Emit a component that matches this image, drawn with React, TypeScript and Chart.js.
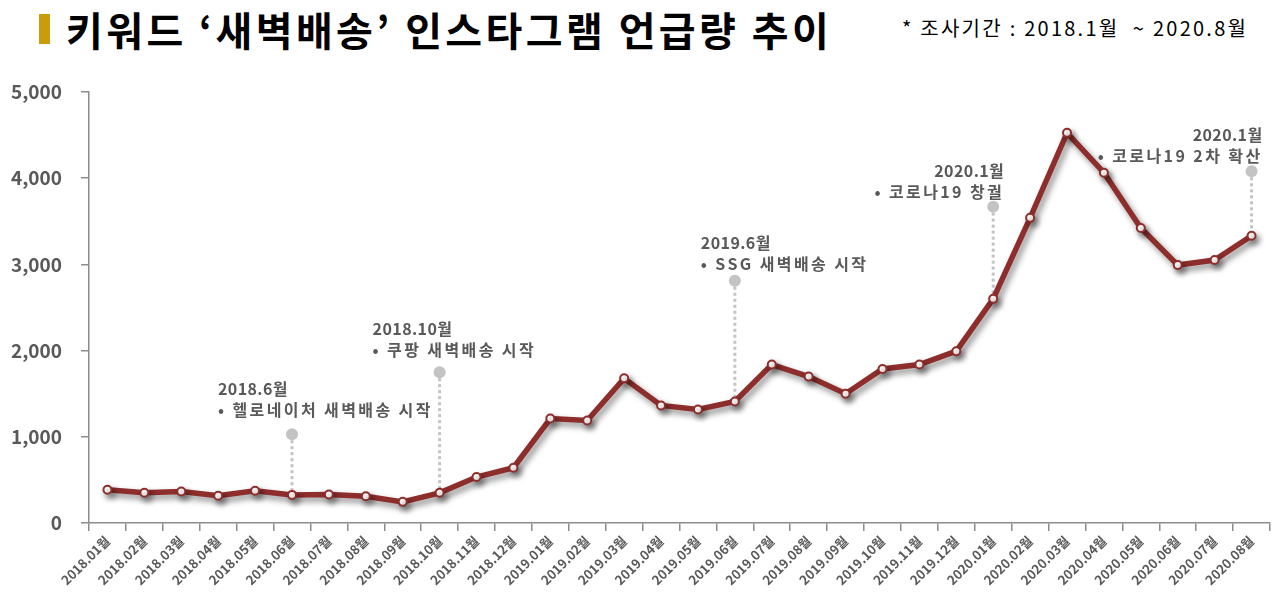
import React, { useEffect, useRef } from "react";
import { Chart, registerables } from "chart.js";

Chart.register(...registerables);

const categories = [
  "2018.01월", "2018.02월", "2018.03월", "2018.04월", "2018.05월", "2018.06월",
  "2018.07월", "2018.08월", "2018.09월", "2018.10월", "2018.11월", "2018.12월",
  "2019.01월", "2019.02월", "2019.03월", "2019.04월", "2019.05월", "2019.06월",
  "2019.07월", "2019.08월", "2019.09월", "2019.10월", "2019.11월", "2019.12월",
  "2020.01월", "2020.02월", "2020.03월", "2020.04월", "2020.05월", "2020.06월",
  "2020.07월", "2020.08월",
];

const mentions = [
  385, 350, 365, 315, 373, 326, 330, 311, 245, 350, 533, 641,
  1212, 1189, 1678, 1364, 1317, 1410, 1838, 1698, 1500, 1787, 1838, 1993,
  2600, 3540, 4526, 4064, 3423, 2992, 3050, 3333,
];

const yTicks = [0, 1000, 2000, 3000, 4000, 5000];

const annotationIndex = [5, 9, 17, 24, 31];
const annotationDotValue = [1030, 1750, 2810, 3670, 4080];
const annotationDate = ["2018.6월", "2018.10월", "2019.6월", "2020.1월", "2020.1월"];
const annotationEvent = [
  "• 헬로네이처 새벽배송 시작",
  "• 쿠팡 새벽배송 시작",
  "• SSG 새벽배송 시작",
  "• 코로나19 창궐",
  "• 코로나19 2차 확산",
];

// layout of annotation text (pixels relative to the grey dot)
const annotationLayout = [
  { align: "left", dx: -74, dy: -24 },
  { align: "left", dx: -67, dy: -22 },
  { align: "left", dx: -34, dy: -17 },
  { align: "right", dx: 11, dy: -15 },
  { align: "right", dx: 11, dy: -15 },
];

const FONT = "'Noto Sans CJK KR', 'Noto Sans', sans-serif";
const LINE_COLOR = "#8E2E2C";
const TEXT_GREY = "#595959";

const shadowPlugin = {
  id: "lineShadow",
  beforeDatasetDraw(chart: any) {
    const ctx = chart.ctx;
    ctx.save();
    ctx.shadowColor = "rgba(0,0,0,0.45)";
    ctx.shadowBlur = 6;
    ctx.shadowOffsetX = 3;
    ctx.shadowOffsetY = 4;
  },
  afterDatasetDraw(chart: any) {
    chart.ctx.restore();
  },
};

const annotationPlugin = {
  id: "eventNotes",
  beforeDatasetsDraw(chart: any) {
    const ctx = chart.ctx;
    const xs = chart.scales.x;
    const ys = chart.scales.y;
    ctx.save();
    annotationIndex.forEach((idx, i) => {
      const x = xs.getPixelForValue(idx);
      const yDot = ys.getPixelForValue(annotationDotValue[i]);
      const yPt = ys.getPixelForValue(mentions[idx]);
      ctx.strokeStyle = "#C3C3C3";
      ctx.lineWidth = 3;
      ctx.setLineDash([3, 3]);
      ctx.beginPath();
      ctx.moveTo(x, yDot);
      ctx.lineTo(x, yPt);
      ctx.stroke();
      ctx.setLineDash([]);
      ctx.fillStyle = "#C3C3C3";
      ctx.beginPath();
      ctx.arc(x, yDot, 6, 0, Math.PI * 2);
      ctx.fill();
    });
    ctx.restore();
  },
  afterDatasetsDraw(chart: any) {
    const ctx = chart.ctx;
    const xs = chart.scales.x;
    const ys = chart.scales.y;
    ctx.save();
    ctx.fillStyle = TEXT_GREY;
    ctx.font = `bold 16px ${FONT}`;
    ctx.textBaseline = "middle";
    annotationIndex.forEach((idx, i) => {
      const lay = annotationLayout[i];
      const x = xs.getPixelForValue(idx) + lay.dx;
      const yDot = ys.getPixelForValue(annotationDotValue[i]);
      ctx.textAlign = lay.align;
      (ctx as any).letterSpacing = "0.4px";
      ctx.fillText(annotationDate[i], x, yDot + lay.dy - 21);
      (ctx as any).letterSpacing = "2.4px";
      ctx.fillText(annotationEvent[i], x, yDot + lay.dy);
    });
    (ctx as any).letterSpacing = "0px";
    ctx.restore();
  },
};

export default function App() {
  const ref = useRef<HTMLCanvasElement | null>(null);

  useEffect(() => {
    if (!ref.current) return;
    const chart = new Chart(ref.current, {
      type: "line",
      data: {
        labels: categories,
        datasets: [
          {
            data: mentions,
            borderColor: LINE_COLOR,
            borderWidth: 5.5,
            pointRadius: 4,
            pointBorderWidth: 2,
            pointBackgroundColor: "#FFFFFF",
            pointBorderColor: LINE_COLOR,
            tension: 0,
          },
        ],
      },
      options: {
        responsive: false,
        animation: false,
        layout: { padding: { top: 92, left: 8, right: 10, bottom: 10 } },
        plugins: { legend: { display: false }, tooltip: { enabled: false } },
        scales: {
          x: {
            offset: true,
            grid: {
              offset: true,
              drawOnChartArea: false,
              drawTicks: true,
              tickLength: 8,
              color: "#8C8C8C",
              lineWidth: 1.5,
            },
            border: { color: "#8C8C8C", width: 1.5 },
            ticks: {
              minRotation: 45,
              maxRotation: 45,
              autoSkip: false,
              color: TEXT_GREY,
              font: { family: FONT, size: 13, weight: "bold" },
              padding: 2,
            },
          },
          y: {
            min: 0,
            max: 5000,
            afterBuildTicks(scale: any) {
              scale.ticks = yTicks.map((v) => ({ value: v }));
            },
            afterFit(scale: any) {
              scale.width = 81;
            },
            grid: {
              drawOnChartArea: false,
              drawTicks: true,
              tickLength: 8,
              color: "#8C8C8C",
              lineWidth: 1.5,
            },
            border: { color: "#8C8C8C", width: 1.5 },
            ticks: {
              color: TEXT_GREY,
              font: { family: FONT, size: 19, weight: "bold" },
              padding: 19,
              callback: (v: any) => Number(v).toLocaleString("en-US"),
            },
          },
        },
      },
      plugins: [annotationPlugin, shadowPlugin],
    } as any);
    return () => chart.destroy();
  }, []);

  return (
    <div style={{ position: "absolute", left: 0, top: 0, width: 1280, height: 600, background: "#fff" }}>
      <div style={{ position: "absolute", left: 39, top: 14, width: 11, height: 30, background: "#C99C0C" }} />
      <div
        style={{
          position: "absolute",
          left: 66,
          top: 0,
          height: 58,
          lineHeight: "58px",
          fontFamily: FONT,
          fontWeight: 700,
          fontSize: 40,
          letterSpacing: 3.4,
          color: "#000",
          whiteSpace: "nowrap",
        }}
      >
        키워드 ‘새벽배송’ 인스타그램 언급량 추이
      </div>
      <div
        style={{
          position: "absolute",
          left: 902,
          top: 10,
          height: 36,
          lineHeight: "36px",
          fontFamily: FONT,
          fontSize: 20,
          letterSpacing: 2.25,
          color: "#000",
          whiteSpace: "pre",
        }}
      >
        * 조사기간 : 2018.1월  ~ 2020.8월
      </div>
      <canvas ref={ref} width={1280} height={600} style={{ position: "absolute", left: 0, top: 0 }} />
    </div>
  );
}
